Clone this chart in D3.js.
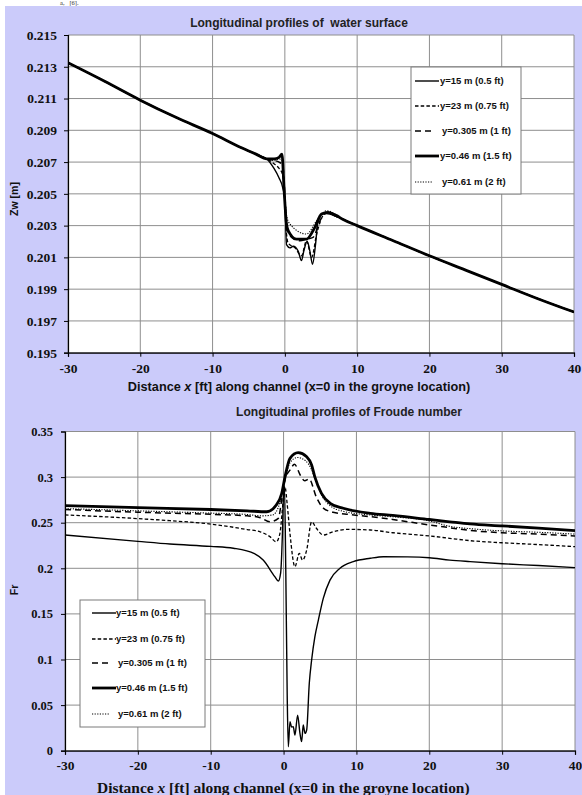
<!DOCTYPE html>
<html>
<head>
<meta charset="utf-8">
<script src="https://cdn.jsdelivr.net/npm/d3@7"></script>
<style>
  body { margin: 0; background: #fff; }
  svg { display: block; }
</style>
</head>
<body>
<svg id="chart" width="582" height="795"></svg>
<script>
// ---- axis ticks ----
const xTicks = [-30, -20, -10, 0, 10, 20, 30, 40];
const xTickLabels = ["-30", "-20", "-10", "0", "10", "20", "30", "40"];
const zwTicks = [0.195, 0.197, 0.199, 0.201, 0.203, 0.205, 0.207, 0.209, 0.211, 0.213, 0.215];
const zwTickLabels = ["0.195", "0.197", "0.199", "0.201", "0.203", "0.205", "0.207", "0.209", "0.211", "0.213", "0.215"];
const frTicks = [0, 0.05, 0.1, 0.15, 0.2, 0.25, 0.3, 0.35];
const frTickLabels = ["0", "0.05", "0.1", "0.15", "0.2", "0.25", "0.3", "0.35"];

// ---- profiles (distance from groyne) ----
const seriesLabels = ["y=15 m (0.5 ft)", "y=23 m (0.75 ft)", "y=0.305 m (1 ft)", "y=0.46 m (1.5 ft)", "y=0.61 m (2 ft)"];

// water surface: reaches shared by every profile
const zwUpX = [-30, -25, -20, -15, -10, -6, -4, -2.5];
const zwUp = [0.21325, 0.2121, 0.2109, 0.2098, 0.2088, 0.2079, 0.2075, 0.2072];
const zwDownX = [8, 10, 15, 20, 25, 30, 35, 40];
const zwDown = [0.2034, 0.2030, 0.20205, 0.2011, 0.2002, 0.1993, 0.1984, 0.19756];

// water surface around the groyne, per profile
const zwNearX0 = [-1.5, -0.8, -0.3, 0, 0.23, 0.7, 1.15, 1.84, 2.3, 2.67, 3.09, 3.46, 3.83, 4.24, 4.6, 5.3, 6.2, 7.0];
const zwNear0 = [0.2066, 0.2060, 0.2054, 0.2046, 0.2018, 0.2016, 0.2017, 0.2014, 0.2008, 0.2015, 0.2020, 0.2014, 0.20057, 0.2018, 0.2033, 0.20377, 0.20373, 0.2036];
const zwNearX1 = [-1.5, -0.8, -0.3, 0, 0.25, 0.46, 1.4, 2.3, 3.0, 3.7, 4.4, 5.5, 6.3, 7.0];
const zwNear1 = [0.2069, 0.2066, 0.2062, 0.2048, 0.2024, 0.2019, 0.2016, 0.2011, 0.20205, 0.2010, 0.20247, 0.20373, 0.2038, 0.2036];
const zwNearX2 = [-1.5, -0.8, -0.3, 0, 0.25, 0.7, 2.1, 3.0, 3.9, 4.85, 5.8, 7.0];
const zwNear2 = [0.2071, 0.2070, 0.2068, 0.2050, 0.2030, 0.20236, 0.20205, 0.20215, 0.20226, 0.2033, 0.20384, 0.2036];
const zwNearX3 = [-1.5, -0.8, -0.4, -0.1, 0.2, 0.46, 1.6, 3.0, 4.15, 5.07, 6.0, 7.15];
const zwNear3 = [0.2072, 0.2073, 0.2075, 0.2052, 0.2032, 0.20268, 0.20215, 0.20215, 0.20289, 0.20373, 0.20384, 0.20363];
const zwNearX4 = [-1.5, -0.8, -0.4, -0.1, 0.25, 0.7, 3.0, 4.4, 5.8, 7.0];
const zwNear4 = [0.2071, 0.2072, 0.2071, 0.2053, 0.2036, 0.2031, 0.20247, 0.2033, 0.20394, 0.2037];

// Froude number, per profile
const frX0 = [-30, -20, -15.6, -10, -6.9, -4, -2.8, -1.2, -0.72, -0.4, -0.15, 0, 0.12, 0.3, 0.5, 0.65, 0.88, 1.1, 1.33, 1.56, 1.93, 2.25, 2.48, 2.7, 2.94, 3.17, 3.53, 3.85, 4.3, 4.77, 5.45, 6.37, 7.74, 9.57, 11.9, 13.7, 17, 20, 22.8, 25.6, 30, 35, 40];
const fr0 = [0.2365, 0.2295, 0.2266, 0.2240, 0.2220, 0.2160, 0.2090, 0.1908, 0.1860, 0.1950, 0.2400, 0.2850, 0.2900, 0.2000, 0.0600, 0.0044, 0.0318, 0.0260, 0.0263, 0.0172, 0.0390, 0.0190, 0.0099, 0.0282, 0.0190, 0.0227, 0.0739, 0.0995, 0.1250, 0.1430, 0.1670, 0.1870, 0.2000, 0.2073, 0.2110, 0.2127, 0.2125, 0.2115, 0.2090, 0.2073, 0.2050, 0.2030, 0.2007];
const frX1 = [-30, -20, -15.6, -10, -5, -3.2, -1.87, -1.0, -0.5, -0.04, 0.19, 0.5, 0.88, 1.56, 2.16, 2.6, 3.17, 3.85, 4.5, 5.45, 6.8, 8.7, 11.9, 15, 20, 22.8, 25.6, 30, 35, 40];
const fr1 = [0.2585, 0.2545, 0.2522, 0.2485, 0.2425, 0.2400, 0.2347, 0.2290, 0.2384, 0.2750, 0.2895, 0.2700, 0.2380, 0.2017, 0.2164, 0.2090, 0.2200, 0.2510, 0.2439, 0.2365, 0.2400, 0.2427, 0.2420, 0.2390, 0.2355, 0.2329, 0.2303, 0.2280, 0.2260, 0.2237];
const frX2 = [-30, -20, -10, -5, -3.2, -1.87, -0.72, -0.26, 0.19, 0.9, 1.5, 2.3, 2.9, 3.5, 4.5, 5.45, 6.8, 9, 11.9, 15, 20, 22.8, 25.6, 30, 35, 40];
const fr2 = [0.2645, 0.2615, 0.2592, 0.2575, 0.2555, 0.2510, 0.2548, 0.2750, 0.2970, 0.3080, 0.3140, 0.3020, 0.2960, 0.2980, 0.2780, 0.2660, 0.2615, 0.2590, 0.2566, 0.2535, 0.2475, 0.2445, 0.2415, 0.2390, 0.2375, 0.2355];
const frX3 = [-30, -20, -10, -5, -2.3, -1.0, -0.26, 0.19, 0.88, 2.0, 3.17, 3.85, 4.3, 5.2, 6.4, 8.2, 11.9, 15, 20, 22.8, 25.6, 30, 35, 40];
const fr3 = [0.2687, 0.2665, 0.2645, 0.2630, 0.2620, 0.2694, 0.2820, 0.3000, 0.3206, 0.3268, 0.3224, 0.3133, 0.3000, 0.2822, 0.2713, 0.2658, 0.2603, 0.2580, 0.2535, 0.2510, 0.2486, 0.2465, 0.2440, 0.2412];
const frX4 = [-30, -20, -10, -5, -3, -1.5, -0.5, 0.19, 0.9, 1.9, 3.0, 3.8, 4.5, 5.3, 6.5, 8.2, 11.9, 15, 20, 22.8, 25.6, 30, 35, 40];
const fr4 = [0.2655, 0.2630, 0.2605, 0.2590, 0.2575, 0.2585, 0.2720, 0.2960, 0.3160, 0.3215, 0.3180, 0.3090, 0.2940, 0.2790, 0.2680, 0.2625, 0.2585, 0.2565, 0.2520, 0.2460, 0.2435, 0.2410, 0.2395, 0.2375];

// ---- line styles for the five profiles ----
const strokes = [
  { w: 1.4, dash: null },
  { w: 1.3, dash: "3.5,2.2" },
  { w: 1.5, dash: "6,4" },
  { w: 2.8, dash: null },
  { w: 1.1, dash: "1.2,1.4" }
];

const SANS = "'Liberation Sans', Arial, sans-serif";
const SERIF = "'Liberation Serif', 'Times New Roman', serif";
const LAVENDER = "#cbcbfa";
const GRID = "#8e8e8e";

const svg = d3.select("#chart");
svg.append("rect").attr("width", 582).attr("height", 795).attr("fill", "#fff");

// end of the caption line above the figure
svg.append("text").attr("x", 60).attr("y", 5)
  .attr("font-family", SERIF).attr("font-size", 6.5).attr("fill", "#333")
  .style("white-space", "pre").text("a,   [6].");

svg.append("rect").attr("x", 5).attr("y", 6).attr("width", 577).attr("height", 789).attr("fill", LAVENDER);

function zip(xs, ys) { return xs.map((x, i) => ({ x, v: ys[i] })); }

const zwSeries = [
  zip(zwUpX.concat(zwNearX0, zwDownX), zwUp.concat(zwNear0, zwDown)),
  zip(zwUpX.concat(zwNearX1, zwDownX), zwUp.concat(zwNear1, zwDown)),
  zip(zwUpX.concat(zwNearX2, zwDownX), zwUp.concat(zwNear2, zwDown)),
  zip(zwUpX.concat(zwNearX3, zwDownX), zwUp.concat(zwNear3, zwDown)),
  zip(zwUpX.concat(zwNearX4, zwDownX), zwUp.concat(zwNear4, zwDown))
];
const frSeries = [zip(frX0, fr0), zip(frX1, fr1), zip(frX2, fr2), zip(frX3, fr3), zip(frX4, fr4)];

function fitWidth(sel, target) {
  const w = sel.node().getComputedTextLength();
  const fs = parseFloat(sel.attr("font-size"));
  sel.attr("font-size", fs * target / w);
}

function panel(cfg) {
  const x = d3.scaleLinear().domain([-30, 40]).range(cfg.xr);
  const y = d3.scaleLinear().domain(cfg.yd).range(cfg.yr);
  const g = svg.append("g");
  const [x0, x1] = cfg.xr, [yb, yt] = cfg.yr;

  g.append("rect").attr("x", x0).attr("y", yt).attr("width", x1 - x0).attr("height", yb - yt).attr("fill", "#fff");

  // grid
  g.append("g").selectAll("line").data(cfg.yTicks).join("line")
    .attr("x1", x0).attr("x2", x1).attr("y1", d => y(d)).attr("y2", d => y(d))
    .attr("stroke", GRID).attr("stroke-width", 1);
  g.append("g").selectAll("line").data(xTicks).join("line")
    .attr("x1", d => x(d)).attr("x2", d => x(d)).attr("y1", yt).attr("y2", yb)
    .attr("stroke", GRID).attr("stroke-width", 1);

  // profiles
  const clipId = "clip" + cfg.id;
  g.append("clipPath").attr("id", clipId).append("rect")
    .attr("x", x0).attr("y", yt - 1).attr("width", x1 - x0).attr("height", yb - yt + 2);
  const line = d3.line().x(d => x(d.x)).y(d => y(d.v)).curve(d3.curveMonotoneX);
  const order = [0, 1, 2, 3, 4];
  g.append("g").attr("clip-path", `url(#${clipId})`).selectAll("path").data(order).join("path")
    .attr("d", i => line(cfg.series[i]))
    .attr("fill", "none").attr("stroke", "#000")
    .attr("stroke-width", i => strokes[i].w)
    .attr("stroke-dasharray", i => strokes[i].dash)
    .attr("stroke-linejoin", "round");

  // axes
  const ya = d3.axisLeft(y).tickValues(cfg.yTicks).tickFormat((d, i) => cfg.yLabels[i]).tickSize(4).tickPadding(cfg.yPad);
  const xa = d3.axisBottom(x).tickValues(xTicks).tickFormat((d, i) => xTickLabels[i]).tickSize(4).tickPadding(cfg.xPad);
  const gy = g.append("g").attr("transform", `translate(${x0},0)`).call(ya);
  const gx = g.append("g").attr("transform", `translate(0,${yb})`).call(xa);
  [gy, gx].forEach(a => {
    a.select(".domain").attr("stroke", "#000").attr("stroke-width", 1.2);
    a.selectAll(".tick line").attr("stroke", "#000");
    a.selectAll("text").attr("font-family", SERIF).attr("font-weight", "bold").attr("fill", "#111");
  });
  gy.selectAll("text").attr("font-size", cfg.yFont);
  gx.selectAll("text").attr("font-size", 13.5);

  // legend
  const L = cfg.legend;
  const lg = g.append("g");
  lg.append("rect").attr("x", L.x).attr("y", L.y).attr("width", L.w).attr("height", L.h)
    .attr("fill", "#fff").attr("stroke", "#7a7a7a").attr("stroke-width", 1);
  const rows = lg.selectAll("g.row").data(order).join("g").attr("class", "row")
    .attr("transform", i => `translate(0,${L.rows[i]})`);
  rows.append("line")
    .attr("x1", L.lx).attr("x2", i => (i === 2 || i === 4) ? L.lx + 17 : L.lx + 24)
    .attr("y1", 0).attr("y2", 0).attr("stroke", "#000")
    .attr("stroke-width", i => strokes[i].w).attr("stroke-dasharray", i => strokes[i].dash);
  rows.append("text").attr("x", i => (i === 2 || i === 4) ? L.tx + 2 : L.tx).attr("y", 3.4)
    .attr("font-family", SANS).attr("font-weight", "bold").attr("font-size", 9.5).attr("fill", "#111")
    .text(i => seriesLabels[i]);
  return { x, y };
}

// ---- water surface ----
panel({
  id: "zw", xr: [68, 574], yr: [352.7, 35], yd: [0.195, 0.215],
  yTicks: zwTicks, yLabels: zwTickLabels, yPad: 7, xPad: 7, yFont: 13.5,
  series: zwSeries,
  legend: { x: 411, y: 67, w: 110, h: 127, rows: [81, 106, 131, 156, 182], lx: 415, tx: 440 }
});

const t1 = svg.append("text").attr("x", 299).attr("y", 27).attr("text-anchor", "middle")
  .attr("font-family", SANS).attr("font-weight", "bold").attr("font-size", 12).attr("fill", "#222")
  .style("white-space", "pre").text("Longitudinal profiles of  water surface");
fitWidth(t1, 218);

const ax1 = svg.append("text").attr("x", 299).attr("y", 391).attr("text-anchor", "middle")
  .attr("font-family", SANS).attr("font-weight", "bold").attr("font-size", 12).attr("fill", "#111");
ax1.append("tspan").text("Distance ");
ax1.append("tspan").attr("font-style", "italic").text("x");
ax1.append("tspan").text(" [ft] along channel (x=0 in the groyne location)");
fitWidth(ax1, 343);

svg.append("text").attr("transform", "translate(18,199) rotate(-90)").attr("text-anchor", "middle")
  .attr("font-family", SANS).attr("font-weight", "bold").attr("font-size", 10.5).attr("fill", "#111")
  .text("Zw [m]");

// ---- Froude number ----
panel({
  id: "fr", xr: [65, 575], yr: [750.7, 431.5], yd: [0, 0.35],
  yTicks: frTicks, yLabels: frTickLabels, yPad: 8, xPad: 6, yFont: 12.5,
  series: frSeries,
  legend: { x: 80, y: 600, w: 125, h: 127, rows: [613, 639, 663, 688, 714], lx: 92, tx: 116 }
});

const t2 = svg.append("text").attr("x", 349).attr("y", 416).attr("text-anchor", "middle")
  .attr("font-family", SANS).attr("font-weight", "bold").attr("font-size", 12).attr("fill", "#222")
  .text("Longitudinal profiles of Froude number");
fitWidth(t2, 226);

svg.append("text").attr("transform", "translate(18,590) rotate(-90)").attr("text-anchor", "middle")
  .attr("font-family", SANS).attr("font-weight", "bold").attr("font-size", 10.5).attr("fill", "#111")
  .text("Fr");

const ax2 = svg.append("text").attr("x", 97).attr("y", 793)
  .attr("font-family", SERIF).attr("font-weight", "bold").attr("font-size", 16).attr("fill", "#111");
ax2.append("tspan").text("Distance ");
ax2.append("tspan").attr("font-style", "italic").text("x");
ax2.append("tspan").text(" [ft] along channel (x=0 in the groyne location)");
fitWidth(ax2, 373);
</script>
</body>
</html>
